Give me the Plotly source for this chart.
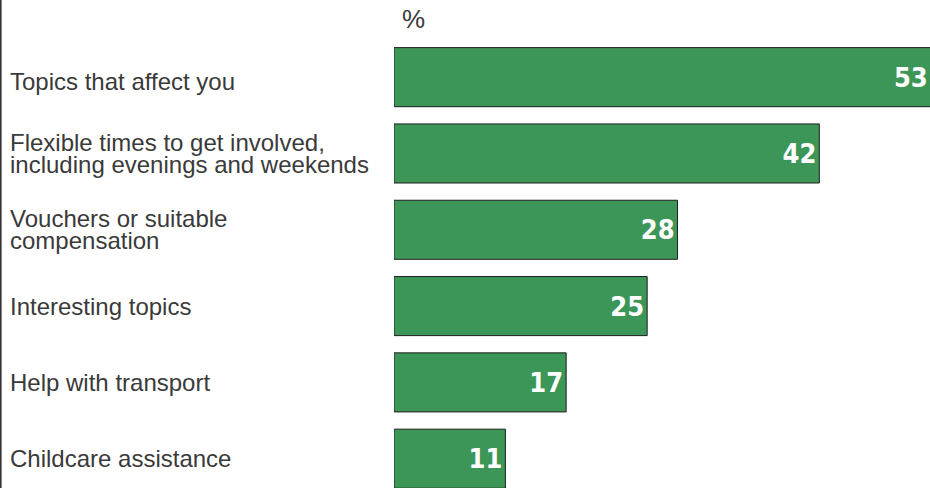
import plotly.graph_objects as go

categories = [
    "Topics that affect you",
    "Flexible times to get involved,<br>including evenings and weekends",
    "Vouchers or suitable<br>compensation",
    "Interesting topics",
    "Help with transport",
    "Childcare assistance",
]
values = [53, 42, 28, 25, 17, 11]
unit_label = "%"

W, H = 930, 488
L, T = 394, 39
PW = W - L
LINE_H = 22
label_nudge = {0: -4}

fig = go.Figure()
fig.add_trace(go.Bar(
    x=values,
    y=list(range(len(categories))),
    orientation="h",
    marker=dict(color="#3c9657", line=dict(color="#1e1e1e", width=1)),
    text=[str(v) for v in values],
    textposition="inside",
    insidetextanchor="end",
    textfont=dict(family="DejaVu Sans Condensed, sans-serif", size=27, color="white", weight="bold"),
    width=0.774,
    hoverinfo="skip",
))

label_font = dict(family="Liberation Sans, Arial, sans-serif", size=24, color="#3a3a3a")
annotations = []
for i, cat in enumerate(categories):
    lines = cat.split("<br>")
    n = len(lines)
    for j, line in enumerate(lines):
        shift = (n - 1) / 2 * LINE_H - j * LINE_H + label_nudge.get(i, 0)
        annotations.append(dict(
            text=line, xref="paper", yref="y", x=(8 - L) / PW, y=i,
            xanchor="left", yanchor="middle", showarrow=False,
            yshift=shift, font=label_font,
        ))
annotations.append(dict(
    text=unit_label, xref="paper", yref="paper", x=(413.5 - L) / PW, y=1,
    xanchor="center", yanchor="middle", yshift=T - 19, showarrow=False,
    font=dict(family="Liberation Sans, Arial, sans-serif", size=26, color="#3a3a3a"),
))

fig.update_layout(
    width=W, height=H,
    margin=dict(l=L, r=0, t=T, b=0, pad=0),
    paper_bgcolor="white", plot_bgcolor="white",
    showlegend=False,
    bargap=0.226,
    xaxis=dict(range=[0, 52.93], visible=False, fixedrange=True),
    yaxis=dict(range=[5.384, -0.5], visible=False, fixedrange=True),
    annotations=annotations,
    shapes=[dict(type="line", xref="paper", yref="paper",
                 x0=(0.8 - L) / PW, x1=(0.8 - L) / PW, y0=-0.1, y1=1 + T / (H - T),
                 line=dict(color="#333333", width=1.6))],
)

fig.write_html(
    "out.html",
    config={"displayModeBar": False},
    post_script="document.body.style.margin='0';document.body.style.overflow='hidden';",
)
